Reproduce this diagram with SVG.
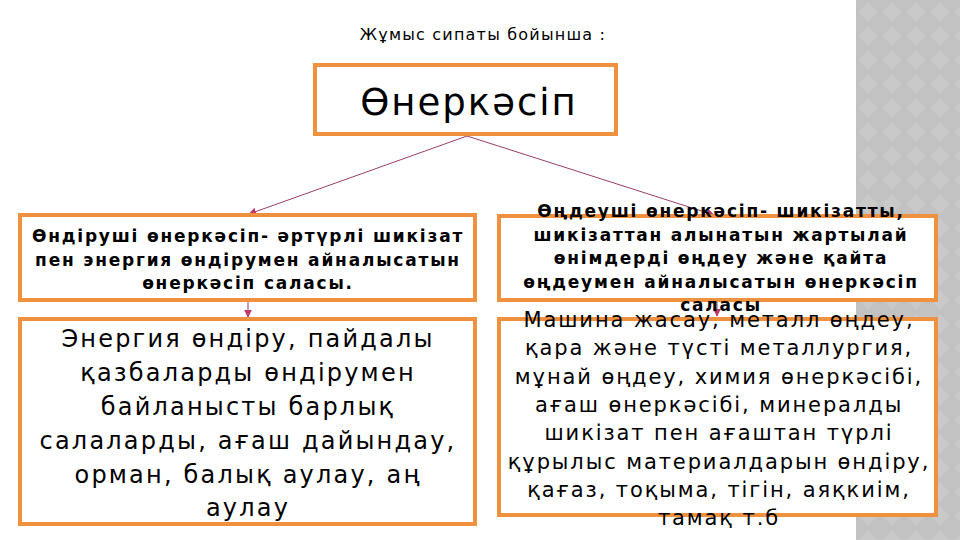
<svg xmlns="http://www.w3.org/2000/svg" width="960" height="540" viewBox="0 0 960 540">
<defs>
<style>
.box{fill:#ffffff;stroke:#f0913f;stroke-width:4}
.t{font-family:"DejaVu Sans","Noto Sans",sans-serif;fill:#000;text-anchor:middle}
.b{font-weight:bold;font-size:17px;letter-spacing:1.8px}
.c{stroke:#9b3d6b;stroke-width:1;fill:none}
</style>
<marker id="ah" viewBox="0 0 10 10" refX="9" refY="5" markerWidth="8" markerHeight="8" markerUnits="userSpaceOnUse" orient="auto">
<path d="M0,0 L10,5 L0,10 z" fill="#c0396b"/>
</marker>
<pattern id="dia" x="856" y="0" width="24" height="24" patternUnits="userSpaceOnUse">
<rect width="24" height="24" fill="#c2c2c2"/>
<path d="M12,2 L22,12 L12,22 L2,12 z" fill="#c9c9c9"/>
</pattern>
</defs>
<rect width="960" height="540" fill="#ffffff"/>
<rect x="856" y="0" width="104" height="540" fill="url(#dia)"/>
<text class="t" x="483" y="40" font-size="16" letter-spacing="1.2">Жұмыс сипаты бойынша :</text>
<g id="connectors">
<line class="c" x1="467" y1="136" x2="249" y2="214" marker-end="url(#ah)"/>
<line class="c" x1="467" y1="136" x2="714" y2="215" marker-end="url(#ah)"/>
<line class="c" x1="248" y1="301" x2="248" y2="317" marker-end="url(#ah)"/>
<line class="c" x1="717" y1="301" x2="717" y2="316" marker-end="url(#ah)"/>
</g>
<g id="n1">
<rect class="box" x="315" y="65" width="301" height="69"/>
<text class="t" x="469" y="115" font-size="37" letter-spacing="2">Өнеркәсіп</text>
</g>
<g id="n2">
<rect class="box" x="20" y="215" width="455" height="85"/>
<text class="t b"><tspan x="248" y="242">Өндіруші өнеркәсіп- әртүрлі шикізат</tspan><tspan x="248" y="265.5">пен энергия өндірумен айналысатын</tspan><tspan x="248" y="289">өнеркәсіп саласы.</tspan></text>
</g>
<g id="n4">
<rect class="box" x="20" y="319" width="455" height="205"/>
<text class="t" font-size="24" letter-spacing="2.2"><tspan x="248" y="347">Энергия өндіру, пайдалы</tspan><tspan x="248" y="381">қазбаларды өндірумен</tspan><tspan x="248" y="415">байланысты барлық</tspan><tspan x="248" y="449">салаларды, ағаш дайындау,</tspan><tspan x="248" y="483">орман, балық аулау, аң</tspan><tspan x="248" y="516">аулау</tspan></text>
</g>
<g id="n3">
<rect class="box" x="499" y="216" width="437" height="84"/>
</g>
<g id="n5">
<rect class="box" x="499" y="319" width="437" height="196"/>
<text class="t" font-size="21" letter-spacing="1.9"><tspan x="719" y="327">Машина жасау, металл өңдеу,</tspan><tspan x="719" y="355.3">қара және түсті металлургия,</tspan><tspan x="719" y="383.6">мұнай өңдеу, химия өнеркәсібі,</tspan><tspan x="719" y="411.9">ағаш өнеркәсібі, минералды</tspan><tspan x="719" y="440.2">шикізат пен ағаштан түрлі</tspan><tspan x="719" y="468.5">құрылыс материалдарын өндіру,</tspan><tspan x="719" y="496.8">қағаз, тоқыма, тігін, аяқкиім,</tspan><tspan x="719" y="525">тамақ т.б</tspan></text>
</g>
<g id="n3text">
<text class="t b"><tspan x="721" y="217">Өңдеуші өнеркәсіп- шикізатты,</tspan><tspan x="721" y="240.5">шикізаттан алынатын жартылай</tspan><tspan x="721" y="264">өнімдерді өңдеу және қайта</tspan><tspan x="721" y="287.5">өңдеумен айналысатын өнеркәсіп</tspan><tspan x="721" y="311">саласы</tspan></text>
</g>
</svg>
